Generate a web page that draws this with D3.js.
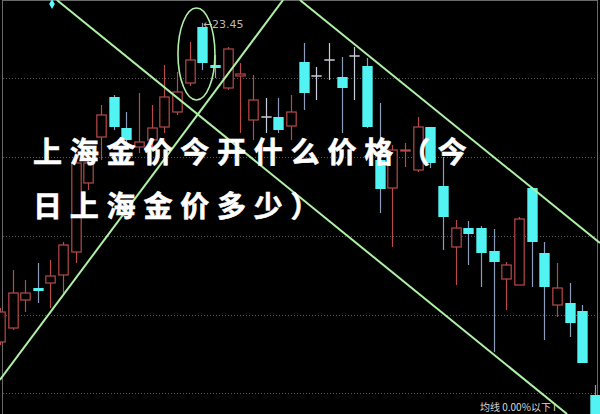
<!DOCTYPE html>
<html><head><meta charset="utf-8">
<script src="https://cdn.jsdelivr.net/npm/d3@7"></script>
<style>html,body{margin:0;padding:0;background:#000;overflow:hidden}svg{display:block}</style>
</head><body><svg id="c" width="600" height="414"></svg>
<script>
// ---- data ----
const days = d3.range(48).map(i => "D" + (i + 1));
const open  = [20.26,20.40,20.68,20.80,20.85,20.93,21.16,21.85,22.31,22.71,22.40,22.21,22.28,22.41,22.56,22.85,23.41,23.03,22.80,22.92,22.48,22.51,22.51,22.42,23.06,22.92,23.08,22.91,23.12,23.02,22.08,21.80,22.17,21.98,22.41,21.82,21.21,21.40,21.40,21.17,20.89,20.83,21.80,21.15,20.63,20.65,20.57,19.73];
const close = [20.56,20.75,20.75,20.77,20.92,21.23,22.05,22.05,22.53,22.41,22.28,22.26,22.40,22.71,22.76,23.08,23.05,23.00,23.19,22.94,22.68,22.51,22.38,22.56,22.75,22.92,23.08,22.80,23.12,22.41,21.79,22.18,22.18,22.41,22.05,21.51,21.40,21.34,21.15,21.06,21.03,21.49,21.26,20.81,20.80,20.45,20.05,19.38];
const high  = [20.60,20.98,20.88,21.05,21.08,21.26,22.10,22.16,22.63,22.73,22.56,22.75,22.63,23.03,22.96,23.26,23.45,23.13,23.21,23.05,22.93,22.70,22.70,22.73,23.25,23.01,23.25,23.11,23.21,23.10,22.65,22.23,22.25,22.51,22.41,22.11,21.48,21.47,21.42,21.39,21.06,21.51,21.81,21.26,21.05,20.85,20.63,19.83];
const low   = [20.23,20.38,20.56,20.65,20.60,20.75,21.05,21.78,22.08,22.38,22.21,22.15,22.21,22.35,22.53,22.82,22.98,22.90,22.78,22.35,22.28,22.35,22.35,22.28,22.58,22.68,22.88,22.35,22.68,22.40,21.55,21.21,22.01,21.96,22.00,21.18,20.83,21.03,20.81,20.16,20.58,20.83,20.81,20.28,20.51,20.31,20.05,19.30];
const gridPrices = [22.90, 22.11, 21.32, 20.53, 19.75];
// trend lines as [index, price] pairs
const trendA = [[4.5, 23.68], [44.8, 19.54]];
const trendB = [[23.7, 23.68], [47.4, 21.25]];
const trendC = [[0.0, 19.88], [22.37, 23.68]];
const ellipseMark = {i: 15.53, p: 23.14, ri: 1.46, rp: 0.46};
const peakLabel = "←23.45";
const statusText = "均线 0.00%以下 I";
const titleLines = ["上海金价今开什么价格（今", "日上海金价多少）"];

// ---- scales ----
const W = 600, H = 414;
const svg = d3.select("#c");
const x = d3.scaleBand().domain(days).range([-6.49, 601.2]).paddingInner(0.18).paddingOuter(0.09);
const bw = x.bandwidth();
const cx = i => x(days[0]) + bw / 2 + i * x.step();
const y = d3.scaleLinear().domain([19.54, 23.68]).range([H, 0]);

svg.append("rect").attr("width", W).attr("height", H).attr("fill", "#000");

// grid
svg.append("g").selectAll("line").data(gridPrices).join("line")
  .attr("x1", 3).attr("x2", 597)
  .attr("y1", d => Math.round(y(d)) + 0.5).attr("y2", d => Math.round(y(d)) + 0.5)
  .attr("stroke", "#5a5a5a").attr("stroke-width", 1).attr("stroke-dasharray", "1 2");

// frame
svg.append("rect").attr("x", 2.5).attr("y", 0.5).attr("width", 595).attr("height", 420)
  .attr("fill", "none").attr("stroke", "#6a6a6a").attr("stroke-width", 1);

// small marker
svg.append("path").attr("d", d3.symbol(d3.symbolDiamond, 28)())
  .attr("transform", `translate(${cx(4.12)},${y(23.64)})`).attr("fill", "#5ff");

// candles
const RED = "#b84a4a", CYAN = "#52f3f3", CWICK = "#8e9cbc", DOJI = "#c8ccd8";
const data = days.map((d, i) => ({i, o: open[i], c: close[i], h: high[i], l: low[i]}));
const g = svg.append("g");
data.forEach(d => {
  const xc = Math.round(cx(d.i)) + 0.5;
  const top = y(Math.max(d.o, d.c)), bot = y(Math.min(d.o, d.c));
  if (d.o === d.c) {
    g.append("line").attr("x1", xc).attr("x2", xc).attr("y1", y(d.h)).attr("y2", y(d.l)).attr("stroke", DOJI).attr("stroke-width", 1.2);
    g.append("line").attr("x1", xc - bw / 2).attr("x2", xc + bw / 2).attr("y1", top).attr("y2", top).attr("stroke", DOJI).attr("stroke-width", 1.5);
  } else if (d.c > d.o) {
    g.append("line").attr("x1", xc).attr("x2", xc).attr("y1", y(d.h)).attr("y2", top).attr("stroke", RED).attr("stroke-width", 1.2);
    g.append("line").attr("x1", xc).attr("x2", xc).attr("y1", bot).attr("y2", y(d.l)).attr("stroke", RED).attr("stroke-width", 1.2);
    g.append("rect").attr("x", xc - bw / 2 + 0.5).attr("y", top).attr("width", bw - 1).attr("height", Math.max(1, bot - top))
      .attr("fill", "#000").attr("stroke", RED).attr("stroke-width", 1.2);
  } else {
    g.append("line").attr("x1", xc).attr("x2", xc).attr("y1", y(d.h)).attr("y2", y(d.l)).attr("stroke", CWICK).attr("stroke-width", 1.2);
    g.append("rect").attr("x", xc - bw / 2).attr("y", top).attr("width", bw).attr("height", Math.max(2, bot - top)).attr("fill", CYAN);
  }
});

// peak label
svg.append("text").attr("x", cx(16) + 0.5).attr("y", y(23.45) + 5)
  .attr("font-family", "DejaVu Sans, sans-serif").attr("font-size", 11).attr("fill", "#b8b8b8").text(peakLabel);

// trend lines & ellipse
const GREEN = "#aef0a6";
const line = d3.line().x(p => cx(p[0])).y(p => y(p[1]));
[trendA, trendB, trendC].forEach(t => svg.append("path").attr("d", line(t)).attr("fill", "none").attr("stroke", GREEN).attr("stroke-width", 2));
svg.append("ellipse").attr("cx", cx(ellipseMark.i)).attr("cy", y(ellipseMark.p))
  .attr("rx", ellipseMark.ri * x.step()).attr("ry", y(ellipseMark.p - ellipseMark.rp) - y(ellipseMark.p))
  .attr("fill", "none").attr("stroke", GREEN).attr("stroke-width", 1.6);

// bottom status text
svg.append("text").attr("x", 480).attr("y", 411).attr("font-family", "Noto Sans CJK SC, sans-serif")
  .attr("font-size", 10).attr("fill", "#d8d8d8").text(statusText);

// overlay title
svg.append("g").selectAll("text").data(titleLines).join("text")
  .attr("x", 33).attr("y", (d, i) => 163 + i * 54)
  .attr("font-family", "Noto Sans CJK SC, sans-serif").attr("font-weight", 700)
  .attr("font-size", 29).attr("letter-spacing", 7.8)
  .attr("fill", "#fff").attr("stroke", "#fff").attr("stroke-width", 0.6)
  .text(d => d);
</script>
</body></html>
